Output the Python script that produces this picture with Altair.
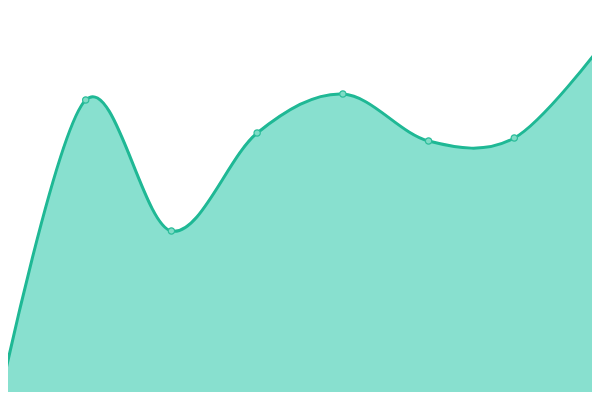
import altair as alt
import pandas as pd

idx = [0, 1, 2, 3, 4, 5, 6, 7]
values = [3, 300, 169, 267, 306, 259, 262, 353]

df = pd.DataFrame({"i": idx, "v": values})

step = 600 / 7
x = alt.X("i:Q", axis=None, scale=alt.Scale(domain=[8 / step, 592 / step], nice=False, zero=False))
y = alt.Y("v:Q", axis=None, scale=alt.Scale(domain=[8, 392], nice=False, zero=False))

base = alt.Chart(df)

area = base.mark_area(
    interpolate="cardinal", color="#88e0cf", opacity=1,
    line={"color": "#1fb895", "strokeWidth": 3}
).encode(x=x, y=y)

pts = base.mark_point(
    filled=True, size=40, fill="#7fdcc6", stroke="#2dbd9b", strokeWidth=1.2, opacity=1
).encode(x=x, y=y)

chart = (area + pts).properties(
    width=584, height=384, padding=0, autosize=alt.AutoSizeParams(type="none")
).configure_view(stroke=None)

chart.save("out.html", embed_options={"renderer": "svg", "actions": False})
